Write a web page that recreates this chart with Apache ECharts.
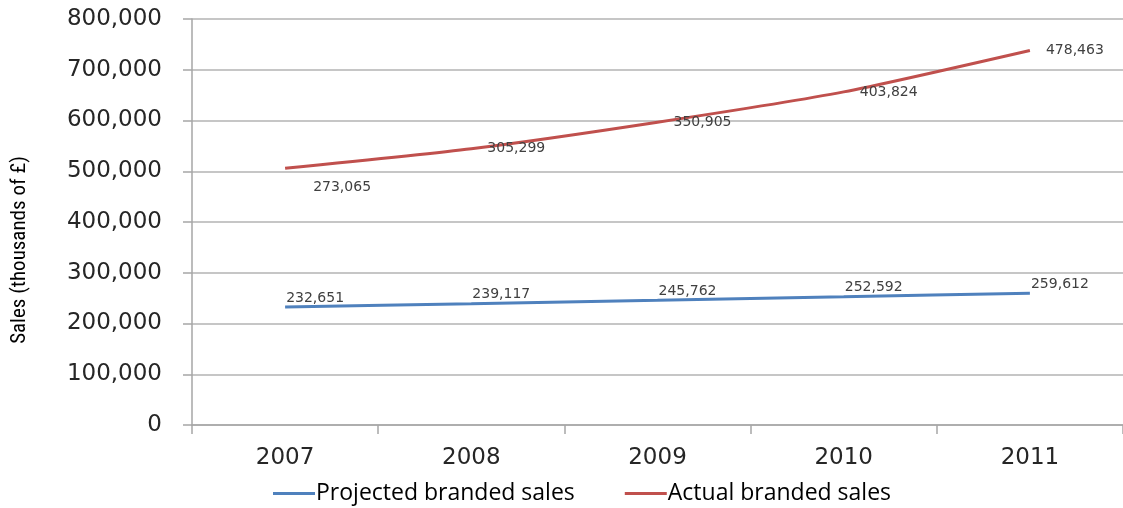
<!DOCTYPE html>
<html><head><meta charset="utf-8">
<script src="https://cdn.jsdelivr.net/npm/echarts@6/dist/echarts.min.js"></script>
<style>html,body{margin:0;padding:0;background:#fff}#c{width:1123px;height:508px}</style>
</head><body><div id="c"></div>
<script>
const years = ['2007','2008','2009','2010','2011'];
const projected = [232651, 239117, 245762, 252592, 259612];
const actual = [273065, 305299, 350905, 403824, 478463];
const yTicks = [0,100000,200000,300000,400000,500000,600000,700000,800000];

const fmt = v => v.toLocaleString('en-US');
const chart = echarts.init(document.getElementById('c'));
chart.setOption({
  animation:false,
  backgroundColor:'#fff',
  grid:{left:192, right:-5, top:19, bottom:83, containLabel:false},
  xAxis:{type:'category', data:years, boundaryGap:true,
    axisLine:{lineStyle:{color:'#a6a6a6', width:1.5}},
    axisTick:{show:true, length:9, lineStyle:{color:'#a6a6a6', width:1.5}},
    axisLabel:{fontFamily:'DejaVu Sans', fontSize:23, color:'#262626', margin:22}},
  yAxis:{type:'value', min:yTicks[0], max:yTicks[yTicks.length-1], interval:100000,
    name:'Sales (thousands of £)', nameLocation:'middle', nameGap:162, nameRotate:90,
    nameTextStyle:{fontFamily:'Liberation Sans Narrow, Roboto Condensed, Liberation Sans', fontSize:21, color:'#000', padding:[0,56,0,0]},
    axisLine:{show:true, lineStyle:{color:'#a6a6a6', width:1.5}},
    axisTick:{show:true, length:9, lineStyle:{color:'#a6a6a6', width:1.5}},
    splitLine:{lineStyle:{color:'#b3b3b3', width:1.5}},
    axisLabel:{fontFamily:'DejaVu Sans', fontSize:23, color:'#262626', margin:30, formatter:v=>fmt(v)}},
  legend:{bottom:-2, left:268, itemWidth:42, itemHeight:3, itemGap:50, icon:'rect',
    textStyle:{fontFamily:'Open Sans', fontSize:23, color:'#000', padding:[0,0,0,-4]},
    data:['Projected branded sales','Actual branded sales']},
  series:[
    {name:'Projected branded sales', type:'line', stack:'s', data:projected, symbol:'circle', symbolSize:0.1, smooth:0.2,
      color:'#4F81BD', lineStyle:{width:3, color:'#4F81BD'},
      label:{show:true, position:'top', offset:[30,3], fontFamily:'DejaVu Sans', fontSize:14, color:'#404040', formatter:p=>fmt(projected[p.dataIndex])}},
    {name:'Actual branded sales', type:'line', stack:'s', symbol:'circle', symbolSize:0.1, smooth:0.2,
      color:'#C0504D', lineStyle:{width:3, color:'#C0504D'},
      data: actual.map((v,i)=> i===0 ? {value:v, label:{position:'bottom', offset:[57,-4]}} : v),
      label:{show:true, position:'right', distance:16, fontFamily:'DejaVu Sans', fontSize:14, color:'#404040', formatter:p=>fmt(actual[p.dataIndex])}}
  ]
});
</script></body></html>
